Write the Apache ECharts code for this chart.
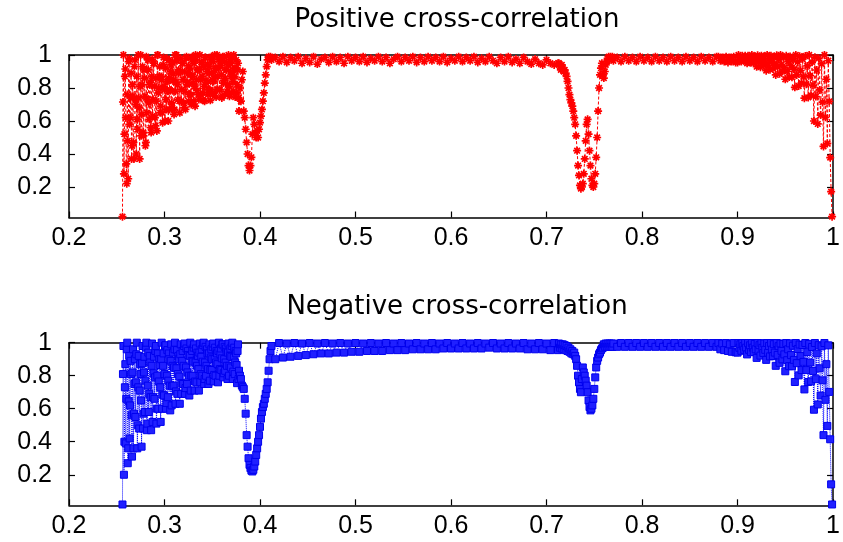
<!DOCTYPE html>
<html><head><meta charset="utf-8">
<script src="https://cdn.jsdelivr.net/npm/echarts@6/dist/echarts.min.js"></script>
<style>html,body{margin:0;padding:0;background:#fff}#c{width:843px;height:542px}</style>
</head><body><div id="c"></div>
<script>
const freq = [
0.256,0.257,0.258,0.259,0.260,0.261,0.262,0.263,0.264,0.265,
0.266,0.267,0.268,0.269,0.270,0.271,0.272,0.273,0.274,0.275,
0.276,0.277,0.278,0.279,0.280,0.281,0.282,0.283,0.284,0.285,
0.286,0.287,0.288,0.289,0.290,0.291,0.292,0.293,0.294,0.295,
0.296,0.297,0.298,0.299,0.300,0.301,0.302,0.303,0.304,0.305,
0.306,0.307,0.308,0.309,0.310,0.311,0.312,0.313,0.314,0.315,
0.316,0.317,0.318,0.319,0.320,0.321,0.322,0.323,0.324,0.325,
0.326,0.327,0.328,0.329,0.330,0.331,0.332,0.333,0.334,0.335,
0.336,0.337,0.338,0.339,0.340,0.341,0.342,0.343,0.344,0.345,
0.346,0.347,0.348,0.349,0.350,0.351,0.352,0.353,0.354,0.355,
0.356,0.357,0.358,0.359,0.360,0.361,0.362,0.363,0.364,0.365,
0.366,0.367,0.368,0.369,0.370,0.371,0.372,0.373,0.374,0.375,
0.376,0.377,0.378,
0.379,0.380,0.381,0.382,0.383,0.384,0.385,0.386,0.387,0.388,
0.389,0.390,0.391,0.392,0.393,0.394,0.395,0.396,0.397,0.398,
0.399,0.400,0.401,0.402,0.403,0.404,0.405,0.406,0.407,0.408,
0.409,0.410,0.411,0.412,
0.416,0.420,0.424,0.428,0.432,0.436,0.440,0.444,0.448,0.452,
0.456,0.460,0.464,0.468,0.472,0.476,0.480,0.484,0.488,0.492,
0.496,0.500,0.504,0.508,0.512,0.516,0.520,0.524,0.528,0.532,
0.536,0.540,0.544,0.548,0.552,0.556,0.560,0.564,0.568,0.572,
0.576,0.580,0.584,0.588,0.592,0.596,0.600,0.604,0.608,0.612,
0.616,0.620,0.624,0.628,0.632,0.636,0.640,0.644,0.648,0.652,
0.656,0.660,0.664,0.668,0.672,0.676,0.680,0.684,0.688,0.692,
0.696,0.700,0.704,0.708,0.712,
0.713,0.714,0.715,0.716,0.717,0.718,0.719,0.720,0.721,0.722,
0.723,0.724,0.725,0.726,0.727,0.728,0.729,0.730,0.731,0.732,
0.733,0.734,0.735,0.736,0.737,0.738,0.739,0.740,0.741,0.742,
0.743,0.744,0.745,0.746,0.747,0.748,0.749,0.750,0.751,0.752,
0.753,0.754,0.755,0.756,0.757,0.758,0.759,0.760,0.761,0.762,
0.763,0.764,0.765,0.766,0.767,0.768,0.769,0.770,
0.774,0.778,0.782,0.786,0.790,0.794,0.798,0.802,0.806,0.810,
0.814,0.818,0.822,0.826,0.830,0.834,0.838,0.842,0.846,0.850,
0.854,0.858,0.862,0.866,0.870,0.874,0.878,
0.880,0.882,0.884,0.886,0.888,0.890,0.892,0.894,0.896,0.898,
0.900,0.901,0.902,0.903,0.904,0.905,0.906,0.907,0.908,0.909,
0.910,0.911,0.912,0.913,0.914,0.915,0.916,0.917,0.918,0.919,
0.920,0.921,0.922,0.923,0.924,0.925,0.926,0.927,0.928,0.929,
0.930,0.931,0.932,0.933,0.934,0.935,0.936,0.937,0.938,0.939,
0.940,0.941,0.942,0.943,0.944,0.945,0.946,0.947,0.948,0.949,
0.950,0.951,0.952,0.953,0.954,0.955,0.956,0.957,0.958,0.959,
0.960,0.961,0.962,0.963,0.964,0.965,0.966,0.967,0.968,0.969,
0.970,0.971,0.972,0.973,0.974,0.975,0.976,0.977,0.978,0.979,
0.980,0.981,0.982,0.983,0.984,0.985,0.986,0.987,0.988,0.989,
0.990,0.991,0.992,0.993,0.994,0.995,0.996,0.997,0.998,0.999
];
const posCorr = [
0.02,1.0,0.52,0.915,0.34,0.76,0.25,0.98,0.62,0.89,
0.45,0.75,0.37,0.97,0.70,0.87,0.55,0.74,0.37,1.0,
0.64,0.93,0.51,0.86,0.45,0.99,0.73,0.91,0.61,0.835,
0.53,0.975,0.73,0.95,0.62,0.86,0.54,1.0,0.80,0.93,
0.69,0.85,0.59,0.985,0.79,0.92,0.67,0.84,0.60,0.97,
0.785,0.94,0.68,0.885,0.64,1.0,0.836,0.965,0.73,0.91,
0.65,0.98,0.79,0.95,0.71,0.90,0.67,0.99,0.835,0.935,
0.76,0.885,0.70,0.99,0.83,0.95,0.69,0.97,0.785,0.91,
0.73,1.0,0.85,0.955,0.77,0.93,0.72,0.985,0.83,0.945,
0.79,0.89,0.725,0.99,0.85,0.96,0.77,0.92,0.745,1.0,
0.87,0.975,0.79,0.935,0.74,0.99,0.845,0.96,0.765,0.91,
0.82,1.0,0.75,0.95,0.87,0.99,0.78,0.92,0.745,0.97,
0.82,0.95,0.66,
0.80,0.72,0.85,0.90,0.66,0.62,0.55,0.47,0.40,0.33,
0.30,0.33,0.38,0.52,0.62,0.58,0.53,0.50,0.54,0.50,
0.55,0.59,0.63,0.67,0.72,0.77,0.83,0.88,0.93,0.97,
0.99,0.98,0.99,0.97,
0.985,0.96,0.99,0.955,0.985,0.965,0.99,0.95,0.98,0.955,
0.99,0.945,0.975,0.985,0.955,0.99,0.96,0.985,0.95,0.99,
0.965,0.985,0.96,0.99,0.955,0.98,0.965,0.99,0.96,0.985,
0.95,0.975,0.99,0.96,0.985,0.965,0.99,0.955,0.985,0.96,
0.99,0.965,0.985,0.96,0.99,0.955,0.98,0.965,0.99,0.96,
0.985,0.965,0.99,0.955,0.98,0.96,0.99,0.965,0.95,0.985,
0.96,0.99,0.955,0.975,0.95,0.985,0.96,0.945,0.975,0.95,
0.94,0.97,0.95,0.94,0.95,
0.95,0.93,0.91,0.94,0.92,0.90,0.91,0.89,0.87,0.84,
0.80,0.76,0.73,0.71,0.69,0.66,0.62,0.58,0.51,0.42,
0.33,0.27,0.21,0.19,0.20,0.22,0.28,0.37,0.48,0.58,
0.61,0.52,0.42,0.33,0.25,0.21,0.20,0.22,0.28,0.38,
0.50,0.66,0.80,0.88,0.92,0.95,0.88,0.86,0.90,0.94,
0.96,0.98,0.99,0.97,0.99,0.98,0.99,0.965,
0.985,0.96,0.99,0.965,0.985,0.96,0.99,0.965,0.985,0.96,
0.99,0.965,0.985,0.96,0.99,0.965,0.985,0.96,0.99,0.965,
0.985,0.96,0.99,0.965,0.985,0.96,0.99,
0.99,0.965,0.985,0.96,0.99,0.955,0.985,0.96,0.99,0.955,
0.955,1.0,0.97,0.99,0.96,0.995,0.98,0.965,0.995,0.975,
0.95,0.995,0.963,0.985,0.953,1.0,0.979,0.953,0.99,0.969,
0.929,0.998,0.958,0.984,0.926,0.996,0.965,0.937,0.991,0.953,
0.905,1.0,0.938,0.977,0.911,0.996,0.957,0.918,0.986,0.943,
0.879,0.998,0.928,0.974,0.886,1.0,0.942,0.901,0.985,0.923,
0.853,0.995,0.901,0.962,0.866,0.991,0.935,0.865,0.976,0.914,
0.804,1.0,0.879,0.958,0.812,0.993,0.906,0.829,0.975,0.869,
0.738,0.994,0.823,0.934,0.743,1.0,0.875,0.755,0.957,0.818,
0.60,0.987,0.748,0.909,0.582,0.98,0.788,0.636,0.947,0.714,
0.446,1.0,0.622,0.853,0.464,0.965,0.719,0.378,0.172,0.02
];
const negCorr = [
0.02,0.98,0.40,0.87,0.66,1.0,0.36,0.92,0.62,0.81,
0.31,0.96,0.57,0.90,0.76,1.0,0.50,0.92,0.71,0.81,
0.37,0.98,0.57,0.915,0.77,1.0,0.51,0.94,0.69,0.88,
0.47,0.995,0.67,0.915,0.79,0.98,0.60,0.935,0.765,0.865,
0.52,1.0,0.685,0.935,0.81,0.985,0.635,0.955,0.77,0.90,
0.59,0.99,0.735,0.94,0.85,1.0,0.705,0.955,0.81,0.90,
0.63,0.99,0.755,0.95,0.86,0.995,0.725,0.965,0.82,0.925,
0.68,1.0,0.80,0.95,0.885,0.99,0.765,0.965,0.86,0.92,
0.71,0.995,0.81,0.96,0.885,1.0,0.78,0.975,0.86,0.935,
0.75,0.99,0.835,0.96,0.90,0.995,0.805,0.97,0.88,0.935,
0.76,1.0,0.84,0.965,0.905,0.99,0.815,0.975,0.88,0.945,
0.78,0.995,0.86,0.965,0.915,1.0,0.825,0.97,0.88,0.935,
0.755,0.99,0.83,
0.80,0.78,0.74,0.73,0.72,0.66,0.57,0.44,0.37,0.30,
0.26,0.24,0.225,0.22,0.23,0.25,0.28,0.32,0.36,0.40,
0.44,0.49,0.54,0.58,0.61,0.63,0.66,0.69,0.72,0.76,
0.83,0.90,0.95,0.98,
0.90,0.998,0.91,0.995,0.915,0.998,0.92,0.995,0.925,0.998,
0.93,0.995,0.935,0.998,0.935,0.995,0.94,0.998,0.94,0.995,
0.945,0.998,0.945,0.995,0.95,0.998,0.95,0.995,0.95,0.998,
0.955,0.995,0.955,0.998,0.955,0.995,0.96,0.998,0.96,0.995,
0.96,0.998,0.96,0.995,0.965,0.998,0.965,0.995,0.965,0.998,
0.965,0.995,0.965,0.998,0.965,0.995,0.97,0.998,0.965,0.995,
0.965,0.998,0.965,0.995,0.965,0.998,0.96,0.995,0.96,0.998,
0.96,0.995,0.955,0.998,0.955,
0.995,0.97,0.99,0.965,0.99,0.96,0.985,0.955,0.98,0.95,
0.97,0.945,0.96,0.935,0.95,0.93,0.94,0.92,0.90,0.86,
0.80,0.76,0.72,0.70,0.78,0.85,0.82,0.80,0.77,0.74,
0.70,0.65,0.61,0.59,0.60,0.62,0.66,0.72,0.79,0.85,
0.89,0.91,0.93,0.94,0.955,0.965,0.97,0.99,0.975,0.995,
0.975,0.995,0.975,0.995,0.975,0.995,0.975,0.995,
0.975,0.998,0.975,0.998,0.975,0.998,0.975,0.998,0.975,0.998,
0.975,0.998,0.975,0.998,0.975,0.998,0.975,0.998,0.975,0.998,
0.975,0.998,0.975,0.998,0.975,0.998,0.975,
0.998,0.96,0.995,0.955,0.998,0.95,0.99,0.945,0.998,0.942,
0.94,0.998,0.969,0.99,0.951,0.997,0.979,0.957,0.998,0.97,
0.929,0.998,0.957,0.984,0.943,0.998,0.97,0.943,0.993,0.96,
0.908,0.998,0.953,0.985,0.922,0.997,0.969,0.938,0.995,0.957,
0.896,0.998,0.94,0.98,0.917,0.998,0.958,0.919,0.991,0.94,
0.86,0.998,0.926,0.979,0.878,0.995,0.951,0.899,0.993,0.929,
0.827,0.998,0.894,0.96,0.858,0.996,0.925,0.857,0.982,0.896,
0.762,0.998,0.876,0.962,0.802,0.989,0.919,0.834,0.986,0.884,
0.717,0.998,0.834,0.943,0.762,0.993,0.88,0.766,0.974,0.829,
0.594,0.998,0.779,0.935,0.626,0.985,0.845,0.68,0.978,0.772,
0.44,0.998,0.654,0.87,0.496,0.984,0.702,0.415,0.142,0.02
];
// extra in-between samples of the dense low-frequency band
const freqMid = [
0.2565,0.2575,0.2585,0.2595,0.2605,0.2615,0.2625,0.2635,0.2645,0.2655,
0.2665,0.2675,0.2685,0.2695,0.2705,0.2715,0.2725,0.2735,0.2745,0.2755,
0.2765,0.2775,0.2785,0.2795,0.2805,0.2815,0.2825,0.2835,0.2845,0.2855,
0.2865,0.2875,0.2885,0.2895,0.2905,0.2915,0.2925,0.2935,0.2945,0.2955,
0.2965,0.2975,0.2985,0.2995,0.3005,0.3015,0.3025,0.3035,0.3045,0.3055,
0.3065,0.3075,0.3085,0.3095,0.3105,0.3115,0.3125,0.3135,0.3145,0.3155,
0.3165,0.3175,0.3185,0.3195,0.3205,0.3215,0.3225,0.3235,0.3245,0.3255,
0.3265,0.3275,0.3285,0.3295,0.3305,0.3315,0.3325,0.3335,0.3345,0.3355,
0.3365,0.3375,0.3385,0.3395,0.3405,0.3415,0.3425,0.3435,0.3445,0.3455,
0.3465,0.3475,0.3485,0.3495,0.3505,0.3515,0.3525,0.3535,0.3545,0.3555,
0.3565,0.3575,0.3585,0.3595,0.3605,0.3615,0.3625,0.3635,0.3645,0.3655,
0.3665,0.3675,0.3685,0.3695,0.3705,0.3715,0.3725,0.3735,0.3745,0.3755,
0.3765,0.3775
];
const posMid = [
0.715,0.28,0.87,0.62,0.22,0.48,0.96,0.58,0.74,0.37,
0.82,0.47,0.93,0.73,0.40,0.61,1.0,0.68,0.81,0.51,
0.82,0.53,0.91,0.75,0.47,0.65,0.97,0.71,0.82,0.56,
0.87,0.63,0.95,0.81,0.57,0.72,1.0,0.77,0.87,0.65,
0.87,0.65,0.94,0.81,0.60,0.73,0.98,0.78,0.86,0.67,
0.90,0.71,0.96,0.85,0.67,0.78,1.0,0.82,0.89,0.72,
0.895,0.72,0.95,0.85,0.68,0.78,0.98,0.82,0.885,0.72,
0.92,0.76,0.97,0.87,0.72,0.81,1.0,0.85,0.91,0.76,
0.91,0.76,0.955,0.87,0.725,0.81,0.985,0.845,0.90,0.76,
0.93,0.79,0.97,0.89,0.76,0.84,1.0,0.87,0.92,0.79,
0.92,0.79,0.96,0.88,0.75,0.83,0.99,0.86,0.91,0.78,
0.94,0.81,0.97,0.90,0.77,0.84,1.0,0.87,0.92,0.77,
0.91,0.74
];
const negMid = [
0.81,0.20,0.73,0.39,0.96,0.27,0.645,0.42,0.89,0.56,
0.82,0.36,0.75,0.55,0.93,0.36,0.73,0.48,0.87,0.65,
0.875,0.48,0.82,0.58,0.97,0.47,0.74,0.58,0.92,0.67,
0.86,0.52,0.815,0.66,0.95,0.51,0.80,0.60,0.90,0.73,
0.90,0.60,0.86,0.68,0.98,0.60,0.80,0.67,0.935,0.74,
0.89,0.62,0.86,0.74,0.96,0.63,0.845,0.69,0.92,0.795,
0.93,0.69,0.89,0.75,0.98,0.69,0.85,0.75,0.95,0.80,
0.92,0.71,0.89,0.80,0.97,0.71,0.88,0.76,0.94,0.84,
0.94,0.76,0.915,0.80,0.985,0.75,0.88,0.80,0.96,0.84,
0.935,0.77,0.91,0.835,0.975,0.765,0.90,0.80,0.95,0.87,
0.95,0.80,0.93,0.835,0.99,0.79,0.90,0.83,0.965,0.86,
0.94,0.80,0.92,0.85,0.98,0.78,0.91,0.81,0.95,0.865,
0.95,0.78
];
const yTickValues = [0.2, 0.4, 0.6, 0.8, 1];
const titles = ['Positive cross-correlation', 'Negative cross-correlation'];

const FONT = 'Liberation Sans';
const chart = echarts.init(document.getElementById('c'), null, {renderer: 'canvas'});

const rows = freq.map((x, i) => [x, posCorr[i], negCorr[i]])
  .concat(freqMid.map((x, i) => [x, posMid[i], negMid[i]]))
  .sort((a, b) => a[0] - b[0]);
const posData = rows.map(r => [r[0], r[1]]);
const negData = rows.map(r => [r[0], r[2]]);

function xAxes(gi) {
  const base = {
    type: 'value', gridIndex: gi, min: 0.2, max: 1, interval: 0.1,
    axisLine: {show: true, onZero: false, lineStyle: {color: '#000', width: 1.5}},
    axisTick: {show: true, inside: true, length: 6, lineStyle: {color: '#000', width: 1.2}},
    splitLine: {show: false}
  };
  return [
    Object.assign({}, base, {position: 'bottom',
      axisLabel: {show: true, color: '#000', fontSize: 25, fontFamily: FONT, margin: 8}}),
    Object.assign({}, base, {position: 'top', axisLabel: {show: false}})
  ];
}
function yAxes(gi) {
  const base = {
    type: 'value', gridIndex: gi, min: 0.015, max: 1,
    axisLine: {show: true, onZero: false, lineStyle: {color: '#000', width: 1.5}},
    axisTick: {show: true, inside: true, length: 6, customValues: yTickValues, lineStyle: {color: '#000', width: 1.2}},
    splitLine: {show: false}
  };
  return [
    Object.assign({}, base, {position: 'left',
      axisLabel: {show: true, color: '#000', fontSize: 25, fontFamily: FONT, margin: 17, customValues: yTickValues}}),
    Object.assign({}, base, {position: 'right', axisLabel: {show: false}})
  ];
}

const titleStyle = {fontSize: 26, fontWeight: 'normal', fontFamily: 'DejaVu Sans', color: '#000'};
chart.setOption({
  animation: false,
  backgroundColor: '#fff',
  title: [
    {text: titles[0], left: 452, textAlign: 'center', top: 2, textStyle: titleStyle},
    {text: titles[1], left: 452, textAlign: 'center', top: 289, textStyle: titleStyle}
  ],
  grid: [
    {left: 69, width: 767, top: 55, height: 162.5},
    {left: 69, width: 767, top: 342.7, height: 162.6}
  ],
  xAxis: xAxes(0).concat(xAxes(1)),
  yAxis: yAxes(0).concat(yAxes(1)),
  series: [
    {
      type: 'line', xAxisIndex: 0, yAxisIndex: 0, data: posData, clip: false,
      showAllSymbol: true,
      symbol: 'path://M5,0L5,10M0,5L10,5M1.5,1.5L8.5,8.5M8.5,1.5L1.5,8.5', symbolSize: 8,
      itemStyle: {color: '#ff0000', borderColor: '#ff0000', borderWidth: 1.7},
      lineStyle: {color: '#ff0000', width: 1, type: [3, 2]}
    },
    {
      type: 'line', xAxisIndex: 2, yAxisIndex: 2, data: negData, clip: false,
      showAllSymbol: true,
      symbol: 'rect', symbolSize: 7,
      itemStyle: {color: '#2020ff', borderColor: '#0000ee', borderWidth: 1},
      lineStyle: {color: '#0000ff', width: 1, type: 'dotted'}
    }
  ]
});
</script>
</body></html>
